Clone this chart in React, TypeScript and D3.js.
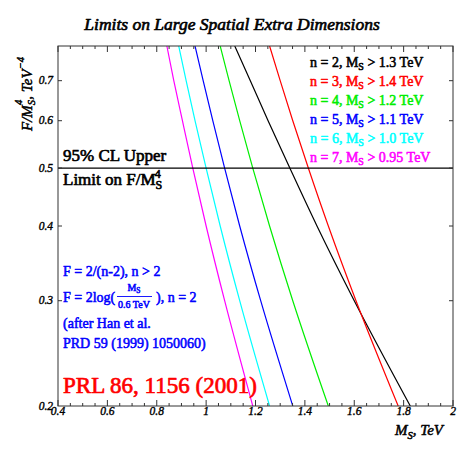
import React from 'react';
import * as d3 from 'd3';

const fLevels = [0.8, 0.7, 0.6, 0.5, 0.4, 0.3, 0.2];
// M_S (TeV) where each n-curve crosses those levels
const msN2 = [1.116, 1.179, 1.251, 1.339, 1.449, 1.6, 1.827];
const msN3 = [1.257, 1.3, 1.351, 1.414, 1.495, 1.607, 1.778];
const msN4 = [1.057, 1.093, 1.136, 1.189, 1.257, 1.351, 1.495];
const msN5 = [0.955, 0.988, 1.027, 1.075, 1.136, 1.221, 1.351];
const msN6 = [0.889, 0.919, 0.955, 1.0, 1.057, 1.136, 1.257];
const msN7 = [0.841, 0.869, 0.904, 0.946, 1.0, 1.075, 1.189];

const seriesN = [2, 3, 4, 5, 6, 7];
const seriesMs = [msN2, msN3, msN4, msN5, msN6, msN7];
const seriesColors = ['#000000', '#ff0000', '#00ee00', '#0000ff', '#00ffff', '#ff00ff'];
const limitLabels = ['1.3', '1.4', '1.2', '1.1', '1.0', '0.95'];

const xTickLabels = [0.4, 0.6, 0.8, 1, 1.2, 1.4, 1.6, 1.8, 2];
const yTickLabels = [0.2, 0.3, 0.4, 0.5, 0.6, 0.7];
const clLimit = 0.5;

const W = 465;
const H = 465;
const left = 58;
const right = 453;
const top = 46;
const bottom = 406;

const serif = "'Liberation Serif', 'Times New Roman', serif";

// bold serif is faked with a thin outline in the text colour
const heavy = (c: string, w = 0.55) => ({
  fill: c,
  stroke: c,
  strokeWidth: w,
  strokeLinejoin: 'round' as const,
});

export default function App() {
  const x = d3.scaleLinear().domain([0.4, 2]).range([left, right]);
  const y = d3.scaleLog().domain([0.2, 0.8]).range([bottom, top]);

  const line = d3
    .line<[number, number]>()
    .x((d) => x(d[0]))
    .y((d) => y(d[1]))
    .curve(d3.curveMonotoneY);

  const minorX = d3.range(0, 33).map((i) => 0.4 + i * 0.05);
  const yTicks = [0.3, 0.4, 0.5, 0.6, 0.7];

  return (
    <svg
      width={W}
      height={H}
      style={{ position: 'absolute', left: 0, top: 0, background: '#fff', fontFamily: serif }}
    >
      <defs>
        <clipPath id="plot">
          <rect x={left} y={top} width={right - left} height={bottom - top} />
        </clipPath>
      </defs>

      <text x={232} y={30} textAnchor="middle" fontSize={17.5} fontStyle="italic" {...heavy('#000', 0.65)}>
        Limits on Large Spatial Extra Dimensions
      </text>

      {/* curves */}
      <g clipPath="url(#plot)">
        {seriesMs.map((ms, i) => (
          <path
            key={seriesN[i]}
            d={line(ms.map((m, j) => [m, fLevels[j]] as [number, number])) || ''}
            fill="none"
            stroke={seriesColors[i]}
            strokeWidth={1.2}
          />
        ))}
        <line x1={left} x2={right} y1={y(clLimit)} y2={y(clLimit)} stroke="#000" strokeWidth={1.2} />
      </g>

      {/* frame */}
      <rect x={left} y={top} width={right - left} height={bottom - top} fill="none" stroke="#333" strokeWidth={1} />

      {/* x ticks */}
      {minorX.map((v, i) => {
        const len = i % 4 === 0 ? 6 : 3;
        return (
          <g key={i}>
            <line x1={x(v)} x2={x(v)} y1={bottom} y2={bottom - len} stroke="#333" />
            <line x1={x(v)} x2={x(v)} y1={top} y2={top + len} stroke="#333" />
          </g>
        );
      })}
      {xTickLabels.map((v) => (
        <text key={v} x={x(v)} y={415} textAnchor="middle" fontSize={11.5} fontStyle="italic" {...heavy('#000', 0.4)}>
          {v}
        </text>
      ))}

      {/* y ticks */}
      {yTicks.map((v) => (
        <g key={v}>
          <line x1={left} x2={left + 4} y1={y(v)} y2={y(v)} stroke="#333" />
          <line x1={right} x2={right - 4} y1={y(v)} y2={y(v)} stroke="#333" />
        </g>
      ))}
      {yTickLabels.map((v) => (
        <text key={v} x={53} y={y(v) + 3.5} textAnchor="end" fontSize={11.5} fontStyle="italic" {...heavy('#000', 0.4)}>
          {v}
        </text>
      ))}

      {/* axis titles */}
      <text x={443} y={435} textAnchor="end" fontSize={15} fontStyle="italic" {...heavy('#000', 0.5)}>
        M<tspan fontSize={10.5} dy={4}>S</tspan>
        <tspan dy={-4}>, TeV</tspan>
      </text>
      <text
        transform="translate(32,57) rotate(-90)"
        textAnchor="end"
        fontSize={15}
        fontStyle="italic"
        {...heavy('#000', 0.5)}
      >
        F/M<tspan fontSize={10.5} dy={3}>S</tspan>
        <tspan fontSize={10.5} dy={-13} dx={-5}>4</tspan>
        <tspan dy={10}>, TeV</tspan>
        <tspan fontSize={10.5} dy={-8}>{'\u2212'}4</tspan>
      </text>

      {/* legend */}
      {seriesN.map((n, i) => (
        <text key={n} x={310} y={67 + i * 19} fontSize={14} {...heavy(seriesColors[i], 0.55)}>
          n = {n}, M<tspan fontSize={10} dy={3}>S</tspan>
          <tspan dy={-3}> &gt; {limitLabels[i]} TeV</tspan>
        </text>
      ))}

      {/* CL label */}
      <text x={63} y={161} fontSize={17} {...heavy('#000', 0.65)}>
        95% CL Upper
      </text>
      <text x={63} y={185} fontSize={17} {...heavy('#000', 0.65)}>
        Limit on F/M<tspan fontSize={12} dy={4}>S</tspan>
        <tspan fontSize={12} dy={-11} dx={-7.5}>4</tspan>
      </text>

      {/* formula notes */}
      <g fontSize={14} {...heavy('#0000ff', 0.55)}>
        <text x={63} y={276}>F = 2/(n-2), n &gt; 2</text>
        <text x={63} y={302}>F = 2log(</text>
        <text x={134} y={291} fontSize={10} textAnchor="middle">
          M<tspan fontSize={7.5} dy={2}>S</tspan>
        </text>
        <line x1={117} x2={152} y1={296.5} y2={296.5} stroke="#0000ff" strokeWidth={0.9} />
        <text x={134} y={307.5} fontSize={10} textAnchor="middle">0.6 TeV</text>
        <text x={156} y={302}>), n = 2</text>
        <text x={63} y={328}>(after Han et al.</text>
        <text x={63} y={348}>PRD 59 (1999) 1050060)</text>
      </g>

      <text x={63} y={393} fontSize={23} {...heavy('#ff0000', 0.7)}>
        PRL 86, 1156 (2001)
      </text>
    </svg>
  );
}
